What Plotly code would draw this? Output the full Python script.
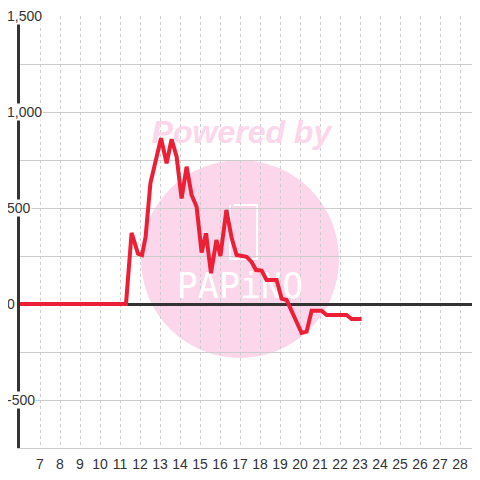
import plotly.graph_objects as go

# ---- data ----
hours = [6, 11.3, 11.58, 11.9, 12.1, 12.28, 12.52, 12.78, 13.05, 13.33, 13.58, 13.83,
         14.08, 14.33, 14.58, 14.83, 15.08, 15.3, 15.55, 15.82, 16.02, 16.32, 16.58,
         16.83, 17.33, 17.58, 17.8, 18.08, 18.33, 18.83, 19.08, 19.33, 20.08, 20.33,
         20.58, 21.08, 21.33, 22.33, 22.58, 23.08]
values = [0, 0, 370, 262, 255, 350, 629, 750, 863, 733, 858, 767,
          550, 715, 568, 507, 268, 368, 160, 333, 250, 490, 345,
          255, 246, 219, 177, 174, 125, 125, 28, 21, -151, -144,
          -35, -35, -57, -57, -78, -78]

x_tick_vals = list(range(7, 29))
x_tick_text = [str(v) for v in x_tick_vals]
y_tick_vals = [-500, 0, 500, 1000, 1500]
y_tick_text = ["-500", "0", "500", "1,000", "1,500"]

FONT = "Liberation Sans, Arial, sans-serif"
PINK = "#FCD6EA"

fig = go.Figure()

# watermark texts (drawn before the line so the line sits on top)
fig.add_trace(go.Scatter(
    x=[17.07], y=[880], mode="text", text=["Powered by"],
    textfont=dict(family=FONT, size=32, color=PINK, weight="bold", style="italic"),
    hoverinfo="skip", showlegend=False))
fig.add_trace(go.Scatter(
    x=[17.0], y=[78], mode="text", text=["PAPiNO"],
    textfont=dict(family="DejaVu Sans Mono, monospace", size=35, color="white"),
    hoverinfo="skip", showlegend=False))

fig.add_trace(go.Scatter(
    x=hours, y=values, mode="lines",
    line=dict(color="#ED1F36", width=4),
    hoverinfo="skip", showlegend=False))

# watermark circle + logo outline
fig.add_shape(type="circle", xref="paper", yref="paper",
              x0=0.263, x1=0.6935, y0=0.2083, y1=0.6667,
              fillcolor=PINK, line=dict(width=0), layer="below")
fig.add_shape(type="path", xref="paper", yref="paper",
              path="M 0.4565,0.5625 L 0.4565,0.4375 L 0.5152,0.4375 L 0.5152,0.5625 L 0.5022,0.5625 M 0.4652,0.5625 L 0.5152,0.5625",
              line=dict(color="white", width=2), layer="below")

for v, t in zip(y_tick_vals, y_tick_text):
    fig.add_annotation(x=0, xref="paper", y=v, yref="y", text=t, showarrow=False,
                       xanchor="left", xshift=-14, bgcolor="white", borderpad=0,
                       font=dict(family=FONT, size=14, color="#333333"))

fig.update_layout(
    width=472, height=464,
    margin=dict(l=12, r=0, t=8, b=24),
    paper_bgcolor="white", plot_bgcolor="white",
    showlegend=False,
    xaxis=dict(range=[6, 29], tickvals=x_tick_vals, ticktext=x_tick_text,
               showgrid=True, gridcolor="#cccccc", gridwidth=1, griddash="3px,3px",
               zeroline=False, showline=True, linecolor="#cccccc", linewidth=1,
               ticks="", ticklabelstandoff=3,
               tickfont=dict(family=FONT, size=14, color="#333333")),
    yaxis=dict(range=[-750, 1500], dtick=250, tick0=0, showticklabels=False,
               showgrid=True, gridcolor="#cccccc", gridwidth=1,
               zeroline=True, zerolinecolor="#333333", zerolinewidth=3,
               showline=True, linecolor="#333333", linewidth=3, ticks=""),
)

fig.write_html("out.html", config={"displayModeBar": False})
